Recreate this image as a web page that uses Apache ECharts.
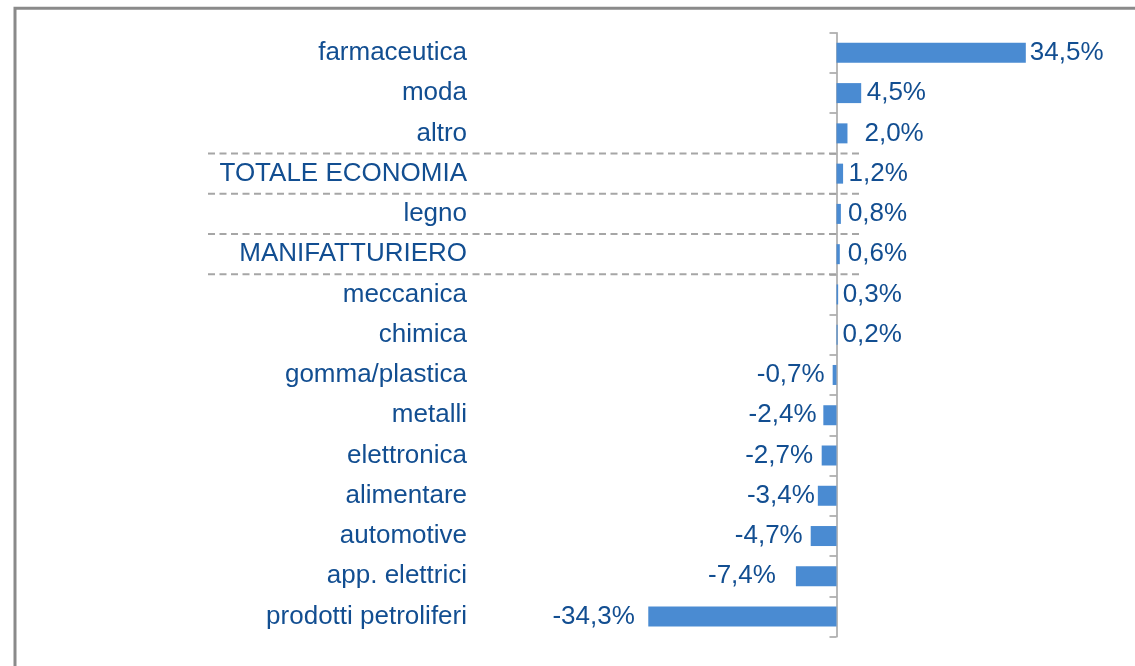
<!DOCTYPE html>
<html>
<head>
<meta charset="utf-8">
<script src="https://cdn.jsdelivr.net/npm/echarts@6/dist/echarts.min.js"></script>
<style>
  html, body { margin: 0; padding: 0; background: #ffffff; }
  #chart { width: 1135px; height: 666px; }
</style>
</head>
<body>
<div id="chart"></div>
<script>
// ---- data ----
const categories = [
  'farmaceutica', 'moda', 'altro', 'TOTALE ECONOMIA', 'legno', 'MANIFATTURIERO',
  'meccanica', 'chimica', 'gomma/plastica', 'metalli', 'elettronica',
  'alimentare', 'automotive', 'app. elettrici', 'prodotti petroliferi'
];
const values = [34.5, 4.5, 2.0, 1.2, 0.8, 0.6, 0.3, 0.2, -0.7, -2.4, -2.7, -3.4, -4.7, -7.4, -34.3];
// separators drawn below these category indices (boundaries)
const separatorAfter = [2, 3, 4, 5];

// ---- styling ----
const labelColor = '#124E91';
const barColor = '#4A8BD2';
const fontFamily = '"Liberation Sans", Arial, sans-serif';
const labelDistance = [4, 5.5, 17, 5.5, 7, 8, 4.5, 5, 8, 6.8, 8.6, 3, 8, 20, 13.5];

const chart = echarts.init(document.getElementById('chart'), null, { renderer: 'canvas' });

const seriesData = values.map((v, i) => ({
  value: v,
  label: {
    position: v >= 0 ? 'right' : 'left',
    distance: labelDistance[i]
  }
}));

const gridLeft = 617;

chart.setOption({
  animation: false,
  backgroundColor: '#ffffff',
  grid: { left: gridLeft, width: 439, top: 32.7, height: 604 },
  xAxis: {
    type: 'value',
    min: -40,
    max: 40,
    show: false,
    splitLine: { show: false }
  },
  yAxis: {
    type: 'category',
    data: categories,
    inverse: true,
    axisLine: { show: true, onZero: true, lineStyle: { color: '#a0a0a0', width: 1.5 } },
    axisTick: { show: true, length: 7, inside: false, lineStyle: { color: '#a0a0a0', width: 1.5 } },
    axisLabel: {
      margin: gridLeft - 467,
      color: labelColor,
      fontSize: 26,
      fontFamily: fontFamily
    },
    splitLine: { show: false }
  },
  series: [{
    type: 'bar',
    data: seriesData,
    barWidth: 20,
    itemStyle: { color: barColor },
    label: {
      show: true,
      color: labelColor,
      fontSize: 26,
      fontFamily: fontFamily,
      formatter: p => p.value.toFixed(1).replace('.', ',') + '%'
    }
  }]
});

// frame + dashed separators
const centerY = i => chart.convertToPixel({ yAxisIndex: 0 }, i);
const graphics = [{
  type: 'rect',
  shape: { x: 15, y: 8.3, width: 1200, height: 720 },
  style: { fill: null, stroke: '#8a8a8a', lineWidth: 3 },
  silent: true
}];
separatorAfter.forEach(i => {
  const y = (centerY(i) + centerY(i + 1)) / 2;
  graphics.push({
    type: 'line',
    shape: { x1: 208, y1: y, x2: 860, y2: y },
    style: { stroke: '#a6a6a6', lineWidth: 2, lineDash: [7, 4.5] },
    silent: true,
    z: -1
  });
});
chart.setOption({ graphic: graphics });
</script>
</body>
</html>
